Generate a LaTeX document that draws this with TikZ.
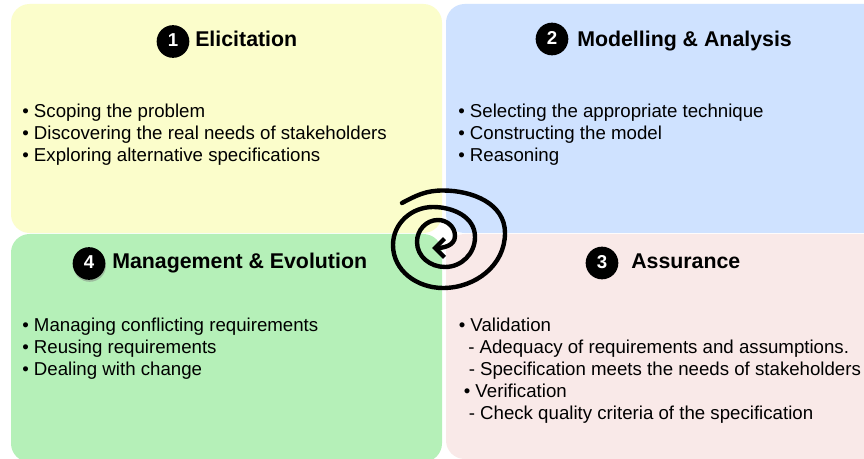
\documentclass[tikz,border=0pt]{standalone}
\usepackage{fontspec}
\setmainfont{Liberation Sans}
\usepackage{xcolor}
\usetikzlibrary{arrows.meta, shadows}
\definecolor{panelYellow}{HTML}{FBFDCB}
\definecolor{panelBlue}{HTML}{CFE2FF}
\definecolor{panelGreen}{HTML}{B5F0B8}
\definecolor{panelPink}{HTML}{F9E9E8}
\newcommand{\badgenum}[1]{\raisebox{1.8pt}{#1}}
\tikzset{
  panel/.style={rounded corners=14pt},
  badge/.style={circle, fill=black, text=white, minimum size=24.5pt, inner sep=0pt, font=\fontsize{14}{16}\bfseries},
  heading/.style={anchor=base west, inner sep=0pt, font=\fontsize{16}{18}\bfseries},
  item/.style={anchor=base west, inner sep=0pt, font=\fontsize{14}{16}\selectfont}
}

\begin{document}
\begin{tikzpicture}[x=0.75pt, y=-0.75pt]
\useasboundingbox (0,0) rectangle (864,459);
\fill[white] (0,0) rectangle (864,459);

% quadrants
\begin{scope}
\clip (0,0) rectangle (864,459);
\fill[panelYellow, panel] (11,4) rectangle (442,233);
\fill[panelBlue, panel] (446,4) rectangle (900,233);
\fill[panelGreen, panel] (11,234) rectangle (442,462);
\fill[panelPink, panel] (446,234) rectangle (900,459);
\end{scope}

% numbered headings
\node[badge] (one) at (173,41.5) {\badgenum{1}};
\node[badge] (two) at (552,39) {\badgenum{2}};
\node[badge] (three) at (602,263) {\badgenum{3}};
\node[badge, drop shadow={shadow xshift=0.5pt, shadow yshift=-1.5pt, opacity=0.45}] (four) at (89,263.5) {\badgenum{4}};

\node[heading] (elicit) at (195,46.6) {Elicitation};
\node[heading] (model) at (577,46.6) {Modelling \& Analysis};
\node[heading] (assure) at (631,268.6) {Assurance};
\node[heading] (manage) at (112,268.6) {Management \& Evolution};

% elicitation
\node[item] (e1) at (22,117.8) {• Scoping the problem};
\node[item] (e2) at (22,139.8) {• Discovering the real needs of stakeholders};
\node[item] (e3) at (22,161.8) {• Exploring alternative specifications};

% modelling
\node[item] (m1) at (458,117.8) {• Selecting the appropriate technique};
\node[item] (m2) at (458,139.8) {• Constructing the model};
\node[item] (m3) at (458,161.8) {• Reasoning};

% management
\node[item] (g1) at (22,331.8) {• Managing conflicting requirements};
\node[item] (g2) at (22,353.8) {• Reusing requirements};
\node[item] (g3) at (22,375.8) {• Dealing with change};

% assurance
\node[item] (a1) at (458.5,331.8) {• Validation};
\node[item] (a2) at (468,353.8) {- Adequacy of requirements and assumptions.};
\node[item] (a3) at (468.5,375.8) {- Specification meets the needs of stakeholders};
\node[item] (a4) at (463.5,397.8) {• Verification};
\node[item] (a5) at (468.5,419.8) {- Check quality criteria of the specification};

% spiral
\draw[line width=3.3pt, line cap=round, -{Straight Barb[length=7pt, width=14pt, line width=3.3pt]}]
  (402,203) to[out=28, in=180] (443,190.5) to[out=0, in=90] (505,233) to[out=-90, in=0] (443,288)
  to[out=180, in=-90] (393,245) to[out=90, in=180] (433,207) to[out=0, in=90] (475,237)
  to[out=-90, in=0] (445,267) to[out=180, in=-90] (417,242) to[out=90, in=180] (438,220)
  to[out=0, in=90] (455,236) to[out=-90, in=0] (432,248);
\end{tikzpicture}
\end{document}
